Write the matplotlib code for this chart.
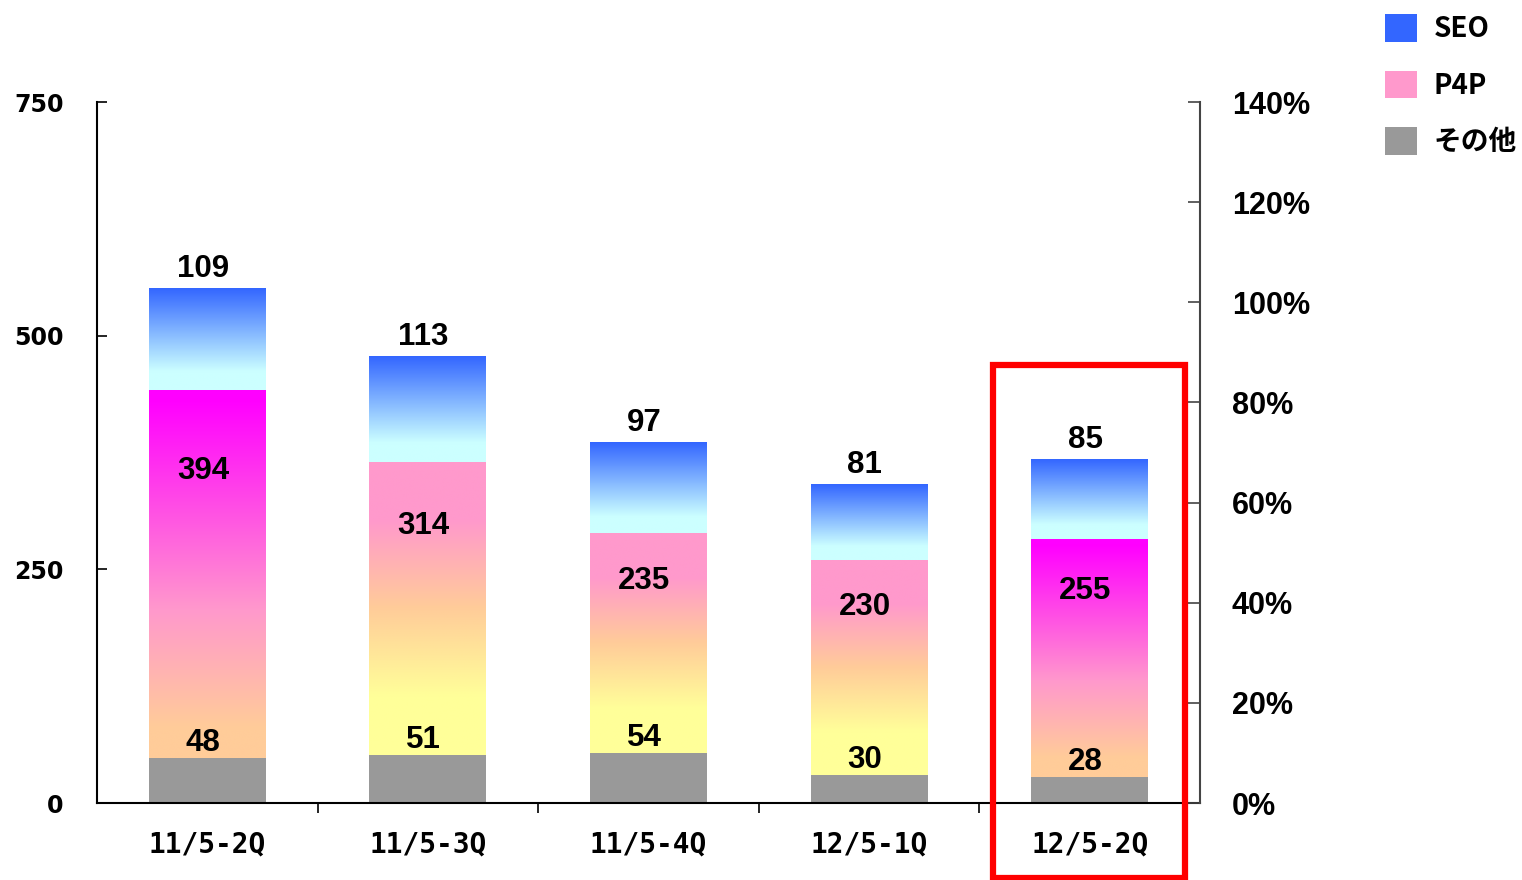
import numpy as np
import matplotlib
matplotlib.use('Agg')
import matplotlib.pyplot as plt
from matplotlib.colors import LinearSegmentedColormap
from matplotlib.patches import Patch, Rectangle
from matplotlib.ticker import FuncFormatter, FixedLocator


categories = ['11/5-2Q', '11/5-3Q', '11/5-4Q', '12/5-1Q', '12/5-2Q']
other = [48, 51, 54, 30, 28]
p4p = [394, 314, 235, 230, 255]
seo = [109, 113, 97, 81, 85]
series_names = ['SEO', 'P4P', 'その他']
left_ticks = [0, 250, 500, 750]
right_ticks = [0, 0.2, 0.4, 0.6, 0.8, 1.0, 1.2, 1.4]

# gradient style per bar for the P4P part
p4p_style = ['vivid', 'soft', 'soft', 'soft', 'vivid']

cmap_seo = LinearSegmentedColormap.from_list(
	'seo', [(0, '#CCFFFF'), (0.18, '#CCFFFF'), (1, '#3366FF')])
cmap_vivid = LinearSegmentedColormap.from_list(
	'vivid', [(0, '#FFCC99'), (0.08, '#FFCC99'), (0.4, '#FF99CC'), (0.97, '#FF00FF'), (1, '#FF00FF')])
cmap_soft = LinearSegmentedColormap.from_list(
	'soft', [(0, '#FFFF99'), (0.2, '#FFFF99'), (0.5, '#FFCC99'), (0.8, '#FF99CC'), (1, '#FF99CC')])
cmaps = {'vivid': cmap_vivid, 'soft': cmap_soft}

grad = np.linspace(0, 1, 256).reshape(-1, 1)


def gradient_fill(ax, patch, cmap):
	x0, y0 = patch.get_x(), patch.get_y()
	x1, y1 = x0 + patch.get_width(), y0 + patch.get_height()
	im = ax.imshow(grad, cmap=cmap, origin='lower', aspect='auto',
				   extent=[x0, x1, y0, y1], interpolation='bicubic', zorder=2)
	im.set_clip_path(patch)
	patch.set_facecolor('none')


fig = plt.figure(figsize=(15.22, 8.8), dpi=100)
ax = fig.add_axes([0.0637, 0.0875, 0.7247, 0.7965])

x = np.arange(len(categories))
w = 0.53
other = np.array(other)
p4p = np.array(p4p)
seo = np.array(seo)

b_other = ax.bar(x, other, w, color='#999999', zorder=2)
b_p4p = ax.bar(x, p4p, w, bottom=other, color='none', zorder=2)
b_seo = ax.bar(x, seo, w, bottom=other + p4p, color='none', zorder=2)

for i in range(len(x)):
	gradient_fill(ax, b_p4p[i], cmaps[p4p_style[i]])
	gradient_fill(ax, b_seo[i], cmap_seo)

ax.set_xlim(-0.5, len(categories) - 0.5)
ax.set_ylim(0, 750)

lab = dict(fontsize=22.5, fontweight='bold', family='Liberation Sans', ha='center', zorder=5)
for i in range(len(x)):
	ax.annotate(str(other[i]), (x[i] - 0.02, other[i]), xytext=(0, 0), textcoords='offset points',
				va='bottom', **lab)
	ax.text(x[i] - 0.02, other[i] + p4p[i] * 0.78, str(p4p[i]), va='center', **lab)
	ax.annotate(str(seo[i]), (x[i] - 0.02, other[i] + p4p[i] + seo[i]), xytext=(0, 3),
				textcoords='offset points', va='bottom', **lab)

# axes styling
ax.spines['top'].set_visible(False)
ax.spines['right'].set_visible(False)
ax.spines['left'].set_linewidth(1.5)
ax.spines['bottom'].set_linewidth(1.5)
ax.set_yticks(left_ticks)
ax.tick_params(axis='y', direction='in', length=7, width=1.2, pad=24)
for t in ax.get_yticklabels():
	t.set_fontsize(17)
	t.set_fontweight('bold')
	t.set_family('DejaVu Sans')

ax.set_xticks(x)
ax.set_xticklabels(categories, fontsize=20, fontweight='bold', family='DejaVu Sans Mono')
ax.tick_params(axis='x', which='major', length=0, pad=20)
ax.xaxis.set_minor_locator(FixedLocator(x[:-1] + 0.5))
ax.tick_params(axis='x', which='minor', direction='out', length=7, width=1.2)

ax2 = ax.twinx()
ax2.set_ylim(0, 1.4)
ax2.set_yticks(right_ticks)
ax2.yaxis.set_major_formatter(FuncFormatter(lambda v, p: '%d%%' % round(v * 100)))
ax2.tick_params(axis='y', direction='in', length=9, width=1.2, pad=23, colors='#444444')
for t in ax2.get_yticklabels():
	t.set_fontsize(22)
	t.set_fontweight('bold')
	t.set_family('Liberation Sans')
	t.set_color('black')
for s in ['top', 'left', 'bottom']:
	ax2.spines[s].set_visible(False)
ax2.spines['right'].set_color('#444444')
ax2.spines['right'].set_linewidth(1.5)

# highlight box around the latest quarter
fig.add_artist(Rectangle((993 / 1522, 2 / 880), 192 / 1522, 513 / 880, transform=fig.transFigure,
						 fill=False, edgecolor='#FF0000', linewidth=4.5))

handles = [Patch(facecolor='#3366FF'), Patch(facecolor='#FF99CC'), Patch(facecolor='#999999')]
leg = fig.legend(handles, series_names, loc='upper left', bbox_to_anchor=(1374 / 1522, 1 - 3 / 880),
				 frameon=False, handlelength=1.15, handleheight=1.15, handletextpad=0.6,
				 labelspacing=0.98, borderaxespad=0,
				 prop={'family': ['Noto Sans CJK JP', 'DejaVu Sans'], 'weight': 'bold', 'size': 20})

fig.savefig('out.png', dpi=100)
